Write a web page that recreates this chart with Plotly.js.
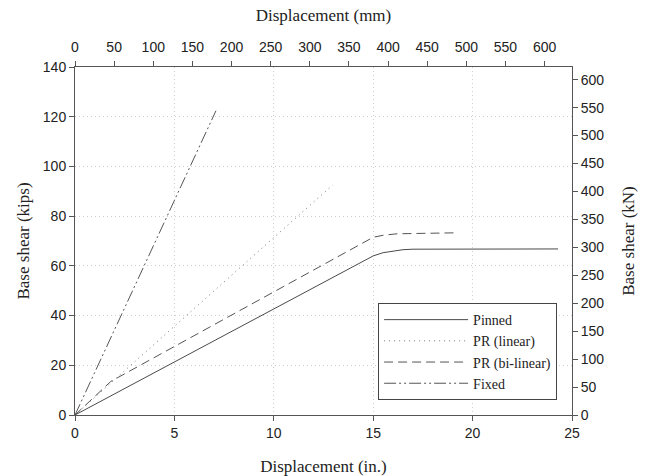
<!DOCTYPE html>
<html>
<head>
<meta charset="utf-8">
<script src="https://cdn.plot.ly/plotly-3.0.1.min.js"></script>
<style>html,body{margin:0;padding:0;background:#fff;}#chart{width:649px;height:476px;}</style>
</head>
<body>
<div id="chart"></div>
<script>
// Displacement (in.) and base shear (kips)
const pinnedX = [0, 15.0, 15.5, 16.0, 16.5, 17.0, 24.3];
const pinnedY = [0, 64.0, 65.3, 66.0, 66.5, 66.7, 66.8];
const prLinearX = [0, 12.96];
const prLinearY = [0, 92.5];
const prBilinearX = [0, 1.8, 15.0, 15.5, 16.2, 19.2];
const prBilinearY = [0, 13.5, 71.5, 72.3, 72.9, 73.3];
const fixedX = [0, 7.09];
const fixedY = [0, 122.4];
const seriesNames = ['Pinned', 'PR (linear)', 'PR (bi-linear)', 'Fixed'];

const IN_TO_MM = 25.4;
const KIP_TO_KN = 4.44822;
const xMax = 25, yMax = 140;

const serif = 'Liberation Serif, Times New Roman, serif';
const sans = 'Liberation Sans, Arial, sans-serif';

const lineStyle = (color, dash) => ({color: color, width: 1, dash: dash});

const traces = [
  {x: pinnedX, y: pinnedY, name: seriesNames[0], mode: 'lines', line: lineStyle('#4a4a4a', 'solid')},
  {x: prLinearX, y: prLinearY, name: seriesNames[1], mode: 'lines', line: lineStyle('#777', '1px,4px')},
  {x: prBilinearX, y: prBilinearY, name: seriesNames[2], mode: 'lines', line: lineStyle('#555', '9px,5px')},
  {x: fixedX, y: fixedY, name: seriesNames[3], mode: 'lines', line: lineStyle('#555', '12px,3px,2px,3px,2px,3px')},
  {x: [], y: [], xaxis: 'x2', yaxis: 'y2', showlegend: false, hoverinfo: 'skip', mode: 'lines'}
];

const axisCommon = {
  showline: true, linecolor: '#555', linewidth: 1,
  ticks: 'outside', ticklen: 5, tickcolor: '#555', tickwidth: 1,
  tickfont: {family: sans, size: 14, color: '#222'},
  zeroline: false, fixedrange: true
};
const titleFont = {family: serif, size: 17, color: '#222'};

const layout = {
  width: 649, height: 476,
  margin: {l: 75, r: 77, t: 67, b: 61},
  paper_bgcolor: '#fff', plot_bgcolor: '#fff',
  showlegend: true,
  legend: {
    x: 0.97, xanchor: 'right', y: 0.043, yanchor: 'bottom',
    bordercolor: '#444', borderwidth: 1, bgcolor: '#fff',
    font: {family: serif, size: 14, color: '#222'},
    itemwidth: 84, tracegroupgap: 0
  },
  xaxis: Object.assign({}, axisCommon, {
    range: [0, xMax], dtick: 5, tick0: 0,
    showgrid: true, gridcolor: '#cfcfcf', griddash: '1px,3px', gridwidth: 1,
    title: {text: 'Displacement (in.)', font: titleFont, standoff: 20}
  }),
  xaxis2: Object.assign({}, axisCommon, {
    range: [0, xMax * IN_TO_MM], dtick: 50, tick0: 0,
    overlaying: 'x', side: 'top', anchor: 'y2', showgrid: false,
    ticklabelstandoff: 3,
    title: {text: 'Displacement (mm)', font: titleFont, standoff: 13}
  }),
  yaxis: Object.assign({}, axisCommon, {
    range: [0, yMax], dtick: 20, tick0: 0,
    showgrid: true, gridcolor: '#cfcfcf', griddash: '1px,3px', gridwidth: 1,
    title: {text: 'Base shear (kips)', font: titleFont, standoff: 8}
  }),
  yaxis2: Object.assign({}, axisCommon, {
    range: [0, yMax * KIP_TO_KN], dtick: 50, tick0: 0,
    overlaying: 'y', side: 'right', anchor: 'x2', showgrid: false,
    title: {text: 'Base shear (kN)', font: titleFont, standoff: 18}
  })
};

Plotly.newPlot('chart', traces, layout, {displayModeBar: false, staticPlot: true});
</script>
</body>
</html>
